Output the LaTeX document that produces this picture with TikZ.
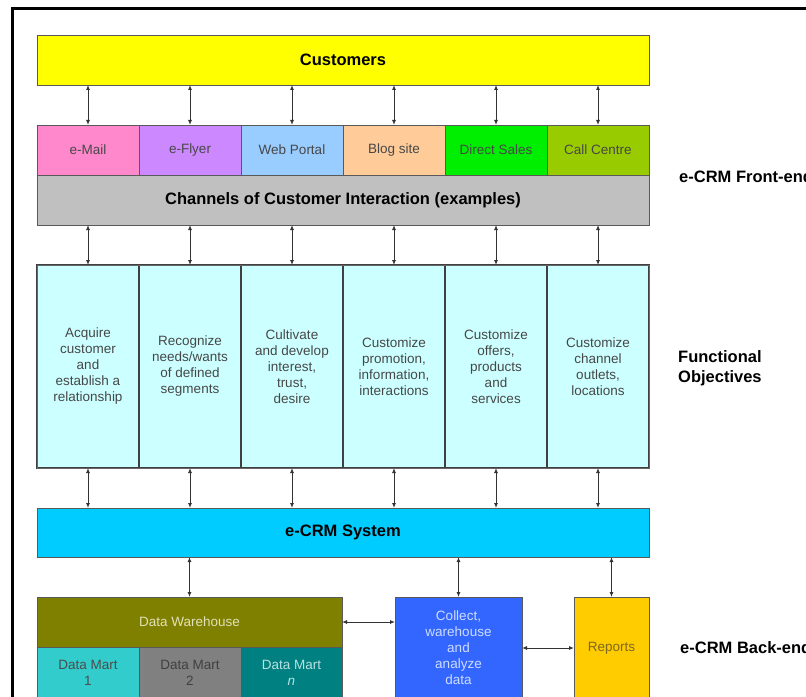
\documentclass[tikz,border=0pt]{standalone}
\usepackage{fontspec}
\setmainfont{Liberation Sans}
\usetikzlibrary{arrows.meta}
\definecolor{cyel}{HTML}{FFFF00}
\definecolor{cmail}{HTML}{FF88CC}
\definecolor{cflyer}{HTML}{CC88FF}
\definecolor{cweb}{HTML}{99CCFF}
\definecolor{cblog}{HTML}{FFCC99}
\definecolor{cdirect}{HTML}{00EE00}
\definecolor{ccall}{HTML}{99CC00}
\definecolor{cgray}{HTML}{C0C0C0}
\definecolor{cfunc}{HTML}{CCFFFF}
\definecolor{cecrm}{HTML}{00CCFF}
\definecolor{cdw}{HTML}{808000}
\definecolor{cdm1}{HTML}{33CCCC}
\definecolor{cdm2}{HTML}{808080}
\definecolor{cdmn}{HTML}{008080}
\definecolor{ccoll}{HTML}{3366FF}
\definecolor{crep}{HTML}{FFCC00}
\begin{document}
\begin{tikzpicture}[x=1bp,y=-1bp,
  box/.style={draw=black!65, line width=0.8bp, inner sep=0pt, outer sep=0pt,
    text=black!72, font=\fontsize{13.5bp}{16bp}\selectfont, align=center},
  big/.style={font=\fontsize{16.5bp}{20bp}\selectfont\bfseries, text=black},
  link/.style={draw=black!80, line width=0.9bp,
    {Latex[length=5bp,width=4bp]}-{Latex[length=5bp,width=4bp]}},
  side/.style={font=\fontsize{16.5bp}{20bp}\selectfont\bfseries, anchor=west,
    align=left, inner sep=0pt},
  chan/.style={box, minimum width=102bp, minimum height=50bp},
  func/.style={box, minimum width=102bp, minimum height=203bp, draw=black!75, line width=1.5bp}]
\useasboundingbox (0,0) rectangle (806,697);
\clip (0,0) rectangle (806,697);
\draw[line width=3bp] (12,9) rectangle (840,740);
% top
\node[box, big, fill=cyel, minimum width=612bp, minimum height=50bp] (cust) at (343,60) {Customers};
\node[chan, fill=cmail]   (ch1) at (88,150)  {e-Mail};
\node[chan, fill=cflyer]  (ch2) at (190,150) {e-Flyer};
\node[chan, fill=cweb]    (ch3) at (292,150) {Web Portal};
\node[chan, fill=cblog]   (ch4) at (394,150) {Blog site};
\node[chan, fill=cdirect] (ch5) at (496,150) {Direct Sales};
\node[chan, fill=ccall]   (ch6) at (598,150) {Call Centre};
\node[box, big, fill=cgray, minimum width=612bp, minimum height=50bp] (gray) at (343,200) {Channels of Customer Interaction (examples)};
% functional
\node[func, fill=cfunc] (f1) at (88,366.5)  {Acquire\\customer\\and\\establish a\\relationship};
\node[func, fill=cfunc] (f2) at (190,366.5) {Recognize\\needs/wants\\of defined\\segments};
\node[func, fill=cfunc] (f3) at (292,366.5) {Cultivate\\and develop\\interest,\\trust,\\desire};
\node[func, fill=cfunc] (f4) at (394,366.5) {Customize\\promotion,\\information,\\interactions};
\node[func, fill=cfunc] (f5) at (496,366.5) {Customize\\offers,\\products\\and\\services};
\node[func, fill=cfunc] (f6) at (598,366.5) {Customize\\channel\\outlets,\\locations};
\draw[draw=black!60, line width=0.8bp] (f1.north west) rectangle (f6.south east);
% system
\node[box, big, fill=cecrm, minimum width=612bp, minimum height=49bp] (ecrm) at (343,532.5) {e-CRM System};
% back end
\node[box, fill=cdw, text={rgb,255:red,225;green,225;blue,185}, minimum width=305bp, minimum height=50bp] (dw) at (189.5,622) {Data Warehouse};
\node[box, fill=cdm1, text=black!70, minimum width=102bp, minimum height=52bp] (dm1) at (88,673) {Data Mart\\1};
\node[box, fill=cdm2, text=black!75, minimum width=102bp, minimum height=52bp] (dm2) at (190,673) {Data Mart\\2};
\node[box, fill=cdmn, text={rgb,255:red,185;green,225;blue,225}, minimum width=101bp, minimum height=52bp] (dmn) at (291.5,673) {Data Mart\\\textit{n}};
\node[box, fill=ccoll, text={rgb,255:red,205;green,220;blue,255}, minimum width=127bp, minimum height=102bp] (coll) at (458.5,648) {Collect,\\warehouse\\and\\analyze\\data};
\node[box, fill=crep, text={rgb,255:red,125;green,105;blue,30}, minimum width=75bp, minimum height=102bp] (rep) at (611.5,648) {Reports};
% side labels
\node[side] (lfront) at (679,177) {e-CRM Front-end};
\node[side] (lfunc) at (678,368) {Functional\\Objectives};
\node[side] (lback) at (680,648) {e-CRM Back-end};
% arrows
\foreach \i in {1,...,6} {
  \draw[link] (cust.south -| ch\i) -- (ch\i.north);
  \draw[link] (gray.south -| f\i) -- (f\i.north);
  \draw[link] (f\i.south) -- (f\i.south |- ecrm.north);
}
\draw[link] (ecrm.south -| dw) -- (dw.north);
\draw[link] (ecrm.south -| coll) -- (coll.north);
\draw[link] (ecrm.south -| rep) -- (rep.north);
\draw[link] (dw.east) -- (dw.east -| coll.west);
\draw[link] (coll.east) -- (coll.east -| rep.west);
\end{tikzpicture}
\end{document}
